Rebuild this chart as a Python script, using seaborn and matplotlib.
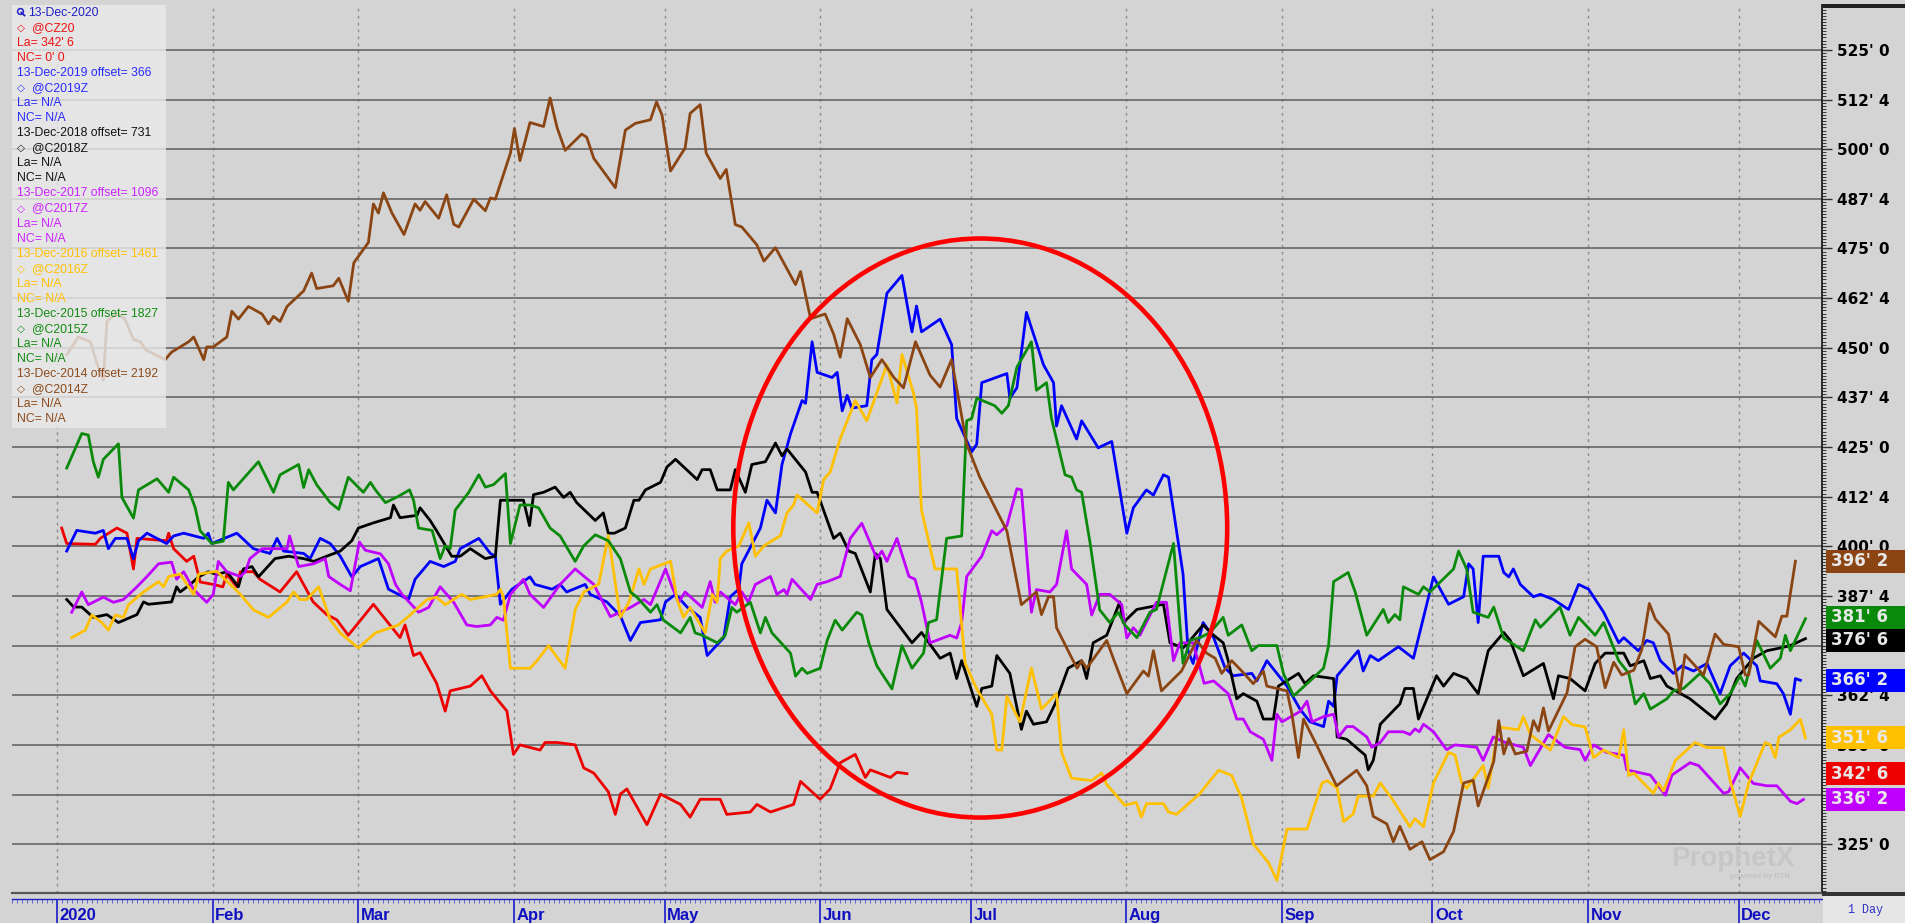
import numpy as np
import pandas as pd
import matplotlib
matplotlib.use("Agg")
import matplotlib.pyplot as plt
import matplotlib.dates as mdates
from matplotlib.patches import Ellipse, Rectangle
from matplotlib.lines import Line2D
from matplotlib.ticker import MultipleLocator, FuncFormatter
from matplotlib.transforms import ScaledTranslation, blended_transform_factory
import seaborn as sns

# ---- data: day of year 2020 (0 = 1 Jan) and price in cents/bu ----
cz20_day = [0.9, 1.9, 7.6, 8.6, 11.9, 13.9, 15.2, 15.9, 21.8, 22.2, 23.2, 25.8, 27.2, 28.5, 31.1, 33.0, 33.8, 35.8, 36.5, 39.1,
            40.4, 44.4, 47.7, 51.0, 53.7, 55.7, 58.0, 63.0, 68.3, 69.3, 71.0, 72.3, 75.6, 77.3, 78.3, 82.3, 84.6, 86.3, 89.6, 90.9,
            92.2, 96.2, 97.2, 99.6, 103.2, 104.9, 106.9, 109.8, 111.2, 112.2, 113.5, 117.5, 120.2, 124.2, 126.1, 128.1, 132.1, 133.4,
            138.1, 139.4, 142.1, 146.7, 148.1, 152.0, 154.0, 156.0, 159.0, 161.0, 162.0, 166.0, 167.3, 169.3]
cz20_price = [404.6, 400.7, 400.5, 402.0, 404.6, 403.3, 394.3, 402.0, 401.4, 403.3, 399.4, 396.2, 397.5, 391.0, 390.4, 389.8,
              392.9, 389.8, 393.6, 393.6, 391.7, 388.5, 393.6, 386.0, 382.8, 381.5, 377.6, 385.4, 377.0, 380.2, 372.5, 373.2,
              365.5, 358.5, 363.6, 364.8, 367.4, 363.6, 358.5, 347.6, 350.0, 348.7, 350.6, 350.6, 350.0, 344.2, 342.9, 338.2,
              332.5, 337.6, 338.9, 329.9, 337.6, 335.0, 331.8, 336.3, 336.3, 332.5, 333.1, 335.0, 333.1, 335.0, 340.8, 336.3,
              338.9, 345.5, 347.6, 341.8, 343.7, 341.8, 343.1, 342.75]

c2019_day = [1.9, 3.9, 7.6, 9.2, 10.2, 11.6, 13.9, 15.2, 16.2, 17.9, 21.8, 23.2, 25.2, 29.2, 30.1, 30.8, 35.8, 39.1, 42.4, 43.8,
             45.1, 49.1, 50.4, 52.4, 54.4, 56.4, 58.7, 60.4, 64.0, 66.0, 70.0, 71.3, 74.3, 77.0, 79.3, 80.3, 84.0, 86.3, 87.3,
             88.3, 90.6, 94.2, 95.2, 98.6, 100.2, 101.5, 105.2, 106.2, 109.5, 112.2, 114.2, 116.2, 120.2, 121.2, 123.2, 125.5,
             128.1, 129.5, 132.8, 134.1, 135.8, 136.4, 140.1, 141.4, 143.1, 144.4, 146.1, 148.4, 149.1, 150.4, 151.4, 154.4,
             155.4, 156.4, 157.4, 158.3, 161.3, 162.3, 163.3, 165.3, 168.3, 170.3, 171.2, 172.2, 175.9, 178.2, 179.2, 182.2,
             183.2, 184.2, 189.2, 189.8, 191.2, 193.1, 196.5, 198.5, 199.1, 200.1, 203.1, 204.1, 207.4, 210.1, 213.1, 214.4,
             217.0, 218.4, 220.4, 221.4, 224.3, 225.3, 226.3, 228.3, 230.4, 232.7, 234.3, 238.0, 239.0, 241.0, 245.0, 247.6,
             249.6, 252.3, 253.3, 254.3, 255.0, 259.2, 260.2, 261.6, 263.2, 267.2, 270.2, 274.2, 277.2, 280.2, 281.2, 282.1,
             283.1, 284.1, 287.2, 288.2, 289.2, 290.1, 291.5, 294.1, 295.5, 298.1, 301.1, 303.1, 305.1, 308.1, 311.1, 312.1,
             315.0, 316.7, 318.0, 319.4, 322.0, 323.7, 326.0, 328.7, 331.3, 333.3, 336.0, 338.6, 339.3, 342.6, 343.9, 345.3,
             346.3, 347.3]
c2019_price = [398.8, 404.0, 403.3, 404.0, 399.4, 402.0, 402.0, 396.9, 401.4, 403.3, 400.7, 402.6, 403.3, 402.0, 403.3, 400.7,
               403.3, 399.4, 398.2, 402.0, 398.8, 398.2, 396.9, 402.0, 400.7, 397.5, 392.3, 394.9, 396.9, 389.2, 386.6, 391.7,
               396.2, 394.9, 396.2, 399.4, 402.0, 398.2, 397.5, 385.4, 389.2, 392.3, 390.4, 389.2, 390.4, 388.5, 390.4, 387.9,
               386.0, 382.5, 376.3, 380.8, 381.5, 386.0, 387.9, 384.7, 382.1, 372.5, 377.0, 387.3, 389.2, 395.6, 404.6, 411.6,
               408.4, 420.6, 428.3, 436.7, 436.0, 451.5, 443.8, 442.5, 443.8, 434.1, 438.0, 434.8, 435.4, 447.0, 448.3, 463.7,
               468.2, 454.0, 460.5, 454.0, 457.2, 450.8, 432.2, 423.8, 425.7, 441.2, 443.5, 437.3, 439.9, 458.9, 445.7, 441.2,
               430.3, 435.4, 427.0, 431.6, 424.8, 426.4, 403.3, 409.7, 414.2, 412.9, 418.0, 417.4, 393.0, 373.7, 370.5, 380.8,
               377.0, 369.3, 367.4, 368.0, 366.1, 371.2, 364.8, 359.0, 355.8, 354.6, 361.0, 359.7, 367.4, 373.7, 368.6, 372.5,
               371.2, 374.7, 371.8, 392.3, 385.4, 387.3, 395.6, 394.3, 380.8, 397.5, 397.5, 393.4, 392.3, 394.3, 390.4, 387.3,
               387.9, 386.6, 384.1, 390.4, 389.2, 383.4, 375.7, 377.0, 373.7, 376.3, 375.7, 371.2, 368.0, 369.9, 368.6, 370.5,
               362.9, 369.9, 373.1, 369.9, 366.1, 365.4, 362.9, 357.7, 366.7, 366.25]

c2018_day = [1.9, 3.3, 4.9, 7.2, 9.9, 12.2, 15.9, 17.2, 18.2, 22.8, 23.8, 24.5, 26.5, 28.2, 30.1, 31.8, 33.8, 36.1, 37.1, 38.8,
             40.1, 43.4, 46.1, 49.1, 51.1, 53.7, 56.4, 58.7, 60.0, 63.0, 66.4, 67.0, 68.3, 71.7, 72.3, 74.3, 75.6, 78.6, 80.3,
             82.3, 85.3, 87.3, 88.3, 92.9, 94.1, 94.9, 96.9, 99.2, 100.9, 102.2, 103.5, 107.2, 108.8, 109.8, 111.0, 113.2, 114.9,
             115.9, 117.2, 120.2, 121.5, 123.2, 127.5, 128.5, 130.1, 131.5, 134.1, 135.1, 137.1, 138.4, 141.1, 143.1, 144.4,
             145.4, 149.1, 150.4, 151.4, 154.7, 156.0, 157.7, 159.0, 162.0, 163.0, 164.0, 165.3, 170.3, 172.2, 175.9, 177.9,
             179.2, 180.2, 183.2, 184.2, 186.2, 187.2, 189.8, 192.1, 193.1, 194.5, 197.1, 198.8, 201.4, 204.1, 205.1, 206.4,
             209.1, 211.7, 212.4, 215.1, 220.4, 221.7, 224.3, 225.7, 228.3, 230.4, 232.3, 233.3, 235.0, 236.3, 239.0, 240.3,
             242.3, 243.3, 247.3, 248.6, 250.3, 254.3, 255.0, 256.9, 260.6, 261.2, 262.2, 263.6, 267.5, 268.5, 270.2, 271.2,
             274.8, 276.2, 278.2, 280.8, 283.1, 285.1, 288.2, 289.5, 292.1, 296.1, 298.1, 299.1, 301.4, 304.4, 306.4, 308.4,
             312.1, 313.4, 316.1, 317.4, 319.4, 320.7, 325.3, 330.3, 332.6, 334.6, 337.9, 340.6, 343.3, 345.3, 348.3]
c2018_price = [386.6, 384.7, 384.7, 382.1, 382.8, 380.8, 382.8, 386.0, 385.4, 386.0, 389.8, 388.5, 390.4, 392.3, 393.6, 392.9,
               393.6, 389.8, 394.3, 394.9, 392.3, 396.9, 397.5, 396.9, 396.2, 397.5, 398.8, 401.4, 404.6, 405.9, 407.2, 410.4,
               407.2, 407.8, 409.7, 406.5, 403.9, 397.5, 397.5, 399.4, 396.9, 397.5, 411.6, 411.6, 405.2, 413.0, 413.6, 414.9,
               412.3, 413.6, 411.0, 406.5, 408.4, 403.3, 403.3, 404.6, 411.6, 411.6, 414.2, 416.1, 420.0, 421.9, 416.8, 419.3,
               419.3, 414.2, 414.2, 419.3, 413.6, 420.6, 421.3, 426.0, 422.8, 424.5, 418.7, 413.6, 413.6, 402.0, 403.3, 398.8,
               398.2, 388.5, 398.2, 396.9, 384.1, 375.7, 378.3, 371.8, 373.1, 366.7, 371.2, 359.7, 364.2, 364.8, 372.5, 368.0,
               353.9, 358.5, 355.2, 355.8, 360.3, 369.3, 371.2, 366.7, 375.7, 377.6, 386.0, 380.8, 384.1, 385.4, 375.7, 374.4,
               376.3, 380.2, 377.6, 375.7, 371.2, 361.6, 362.9, 361.0, 356.5, 356.5, 364.8, 368.0, 365.4, 367.4, 366.7, 352.0,
               351.4, 347.4, 343.7, 346.1, 355.2, 360.3, 364.2, 364.2, 356.5, 367.4, 364.8, 368.0, 366.7, 362.9, 373.7, 378.3,
               376.3, 367.4, 370.5, 361.6, 367.4, 366.7, 363.6, 370.5, 373.1, 373.1, 369.9, 371.2, 366.7, 367.4, 364.8, 361.6,
               356.5, 360.3, 366.7, 371.8, 373.7, 374.4, 375.0, 376.75]

c2017_day = [2.9, 4.9, 6.2, 9.2, 11.2, 13.2, 15.9, 17.9, 20.2, 22.8, 23.8, 25.2, 27.2, 29.8, 31.1, 32.1, 33.8, 36.5, 37.5, 38.4,
             40.8, 45.8, 46.3, 48.1, 51.1, 53.4, 54.1, 56.4, 58.4, 60.2, 61.4, 64.4, 66.0, 67.4, 68.7, 72.0, 74.0, 76.3, 79.0,
             81.6, 83.6, 86.3, 87.6, 88.9, 90.3, 92.9, 94.2, 96.9, 100.2, 103.2, 106.9, 110.2, 112.2, 114.2, 116.9, 118.2, 121.2,
             122.5, 123.8, 125.1, 128.5, 130.1, 131.1, 132.1, 135.1, 136.4, 137.7, 139.1, 142.1, 143.4, 144.8, 145.4, 146.4,
             150.1, 151.4, 153.4, 156.0, 158.0, 160.3, 163.3, 164.3, 165.3, 167.3, 169.7, 170.9, 172.2, 173.9, 177.9, 179.2,
             180.2, 181.2, 184.2, 186.2, 187.2, 189.2, 191.2, 192.1, 194.1, 195.1, 197.8, 199.1, 201.1, 202.1, 205.1, 206.1,
             207.7, 209.7, 212.1, 213.1, 214.4, 215.7, 219.0, 221.0, 222.4, 223.7, 226.3, 228.5, 230.4, 233.3, 235.0, 236.3,
             237.7, 240.3, 242.0, 243.0, 244.0, 247.6, 249.0, 250.0, 252.3, 254.3, 255.3, 256.9, 258.2, 260.9, 261.9, 263.6,
             265.2, 268.2, 269.5, 270.5, 271.4, 272.2, 274.2, 276.8, 278.5, 282.8, 284.1, 286.1, 288.5, 292.1, 293.5, 297.1,
             300.4, 303.4, 304.4, 306.1, 308.7, 312.1, 312.7, 317.4, 320.4, 321.7, 325.3, 327.0, 332.0, 333.0, 335.3, 337.9,
             340.6, 342.6, 345.3, 346.6, 347.9]
c2017_price = [383.4, 388.5, 385.3, 387.2, 385.9, 386.6, 389.8, 392.4, 395.6, 396.0, 391.7, 393.6, 389.1, 385.9, 387.9, 396.2,
               393.6, 392.4, 393.6, 396.9, 399.4, 399.4, 402.6, 394.9, 395.6, 396.9, 392.4, 390.4, 388.8, 401.1, 399.0, 398.1,
               395.6, 390.4, 387.9, 383.4, 384.6, 389.8, 385.9, 380.2, 379.8, 380.2, 382.1, 381.4, 387.9, 391.7, 387.9, 384.6,
               390.4, 394.3, 390.4, 382.3, 383.4, 384.6, 386.6, 385.3, 394.3, 389.8, 385.9, 388.5, 384.6, 391.1, 385.9, 388.5,
               385.3, 388.5, 385.9, 390.4, 392.4, 387.9, 389.1, 387.9, 391.7, 386.6, 390.4, 391.1, 392.4, 402.0, 405.8, 396.9,
               398.8, 396.2, 402.0, 392.4, 391.7, 385.9, 375.7, 377.6, 376.9, 380.8, 392.4, 397.5, 403.9, 402.9, 405.2, 414.5,
               414.2, 383.4, 389.1, 388.5, 390.4, 403.9, 394.3, 390.4, 382.7, 387.9, 387.9, 385.3, 376.9, 379.5, 377.6, 385.9,
               385.9, 371.2, 375.7, 375.7, 365.5, 366.1, 362.9, 356.5, 356.5, 353.3, 351.4, 346.1, 357.7, 355.8, 358.4, 361.0,
               355.8, 357.1, 357.7, 352.0, 354.6, 354.6, 352.0, 349.4, 350.6, 353.3, 353.3, 352.6, 354.0, 353.3, 355.2, 353.3,
               348.8, 350.0, 349.4, 346.1, 352.0, 350.6, 349.4, 344.8, 352.6, 349.4, 348.8, 346.1, 350.0, 348.1, 347.4, 343.7,
               342.4, 337.3, 342.4, 345.5, 344.8, 337.8, 338.2, 344.2, 340.3, 339.7, 339.7, 335.8, 335.2, 336.25]

c2016_day = [2.9, 5.6, 6.9, 8.9, 10.2, 11.6, 13.2, 14.2, 17.2, 20.2, 21.2, 22.2, 24.5, 27.2, 28.2, 31.8, 36.5, 39.1, 42.1, 45.8,
             47.1, 48.4, 49.7, 52.1, 54.4, 56.4, 60.0, 63.4, 68.0, 70.3, 73.7, 75.6, 77.3, 80.6, 82.3, 87.6, 88.3, 88.9, 90.3,
             94.2, 95.6, 97.9, 101.2, 103.2, 104.9, 107.9, 109.8, 112.2, 113.9, 115.9, 116.9, 118.2, 122.2, 123.5, 124.8, 126.1,
             129.1, 130.5, 131.5, 132.1, 133.4, 135.8, 137.8, 139.1, 140.8, 144.1, 145.4, 146.7, 147.4, 151.4, 152.7, 154.0,
             156.0, 159.0, 161.3, 165.3, 167.3, 168.3, 170.6, 171.2, 172.2, 174.9, 179.2, 180.9, 183.2, 186.2, 187.2, 188.2,
             189.2, 191.8, 194.1, 196.1, 199.1, 200.1, 202.1, 206.1, 208.1, 209.1, 212.7, 215.0, 216.0, 217.0, 220.4, 221.4,
             223.0, 227.7, 229.7, 231.4, 234.0, 236.0, 238.3, 241.3, 243.0, 245.0, 249.0, 252.0, 253.0, 255.0, 256.3, 258.2,
             259.2, 262.2, 263.6, 265.9, 269.5, 270.5, 272.2, 274.2, 277.2, 278.5, 279.8, 280.8, 284.1, 285.1, 286.2, 287.2,
             291.1, 292.1, 293.5, 297.5, 300.1, 301.8, 304.4, 306.1, 308.1, 311.1, 312.1, 313.1, 314.1, 318.0, 319.0, 320.0,
             322.4, 326.3, 328.7, 332.0, 333.3, 335.3, 337.0, 340.3, 341.3, 342.3, 343.0, 345.3, 347.3, 348.3]
c2016_price = [377.0, 378.9, 382.7, 380.8, 378.9, 382.7, 382.1, 385.3, 388.5, 391.1, 389.8, 392.4, 393.0, 387.9, 393.0, 393.7,
               387.9, 384.0, 382.1, 386.0, 388.5, 386.6, 386.6, 389.8, 381.5, 378.2, 374.4, 378.2, 380.2, 382.7, 386.6, 387.2,
               385.3, 387.9, 386.6, 387.9, 389.2, 387.2, 369.3, 369.3, 371.2, 375.0, 369.3, 384.0, 388.5, 390.5, 402.7, 382.1,
               385.9, 394.3, 390.4, 394.3, 396.2, 386.6, 382.1, 384.6, 378.2, 387.9, 385.9, 396.9, 398.8, 400.1, 405.9, 397.5,
               400.1, 402.7, 408.4, 410.4, 412.9, 408.4, 416.8, 418.7, 427.1, 436.7, 431.6, 445.7, 436.1, 448.3, 438.6, 434.8,
               409.1, 394.3, 394.3, 370.5, 364.1, 357.7, 348.7, 348.7, 362.2, 355.8, 369.3, 359.0, 362.9, 348.1, 341.6, 341.0,
               342.9, 340.0, 334.8, 335.5, 331.8, 335.2, 335.2, 333.1, 332.5, 337.8, 341.0, 343.6, 342.3, 336.5, 325.0, 320.4,
               315.9, 328.8, 328.8, 340.4, 341.0, 339.1, 330.7, 332.6, 337.1, 337.1, 340.4, 336.5, 329.4, 331.4, 329.4, 340.4,
               348.1, 347.4, 340.4, 339.1, 344.8, 339.1, 347.4, 354.5, 353.8, 357.1, 352.6, 348.7, 357.1, 355.1, 354.5, 346.8,
               348.7, 346.8, 353.8, 342.3, 342.9, 337.8, 340.4, 338.4, 346.1, 350.6, 349.3, 349.3, 341.0, 332.0, 340.4, 350.6,
               350.0, 346.8, 351.9, 353.8, 356.4, 351.75]

c2015_day = [1.9, 4.9, 6.2, 7.2, 8.2, 9.2, 12.2, 12.9, 15.2, 16.2, 19.9, 22.2, 23.2, 26.2, 27.5, 28.5, 30.8, 33.1, 34.1, 35.1,
             40.1, 43.1, 44.4, 48.1, 49.1, 50.1, 51.7, 54.4, 56.1, 58.0, 61.0, 62.4, 63.4, 65.4, 68.0, 70.2, 71.0, 72.0, 74.7,
             76.3, 77.3, 78.3, 79.3, 82.0, 84.0, 85.3, 86.9, 89.3, 90.3, 92.2, 94.2, 95.9, 98.2, 100.2, 103.2, 104.9, 107.2,
             109.8, 112.2, 114.2, 115.5, 118.2, 119.5, 120.8, 124.2, 126.1, 127.1, 128.5, 131.5, 133.1, 134.4, 135.4, 138.1,
             140.1, 141.1, 142.4, 146.1, 147.1, 148.4, 149.4, 152.0, 153.4, 155.0, 156.4, 159.3, 160.3, 161.7, 163.3, 166.3,
             168.3, 170.3, 172.6, 173.6, 175.2, 177.2, 180.2, 181.2, 182.2, 183.2, 186.8, 188.2, 189.5, 191.2, 194.1, 195.1,
             197.1, 198.1, 200.8, 202.1, 203.1, 204.1, 205.8, 207.7, 209.7, 211.4, 212.7, 215.1, 217.7, 219.0, 222.4, 224.3,
             225.7, 227.7, 229.7, 232.3, 233.3, 236.0, 238.0, 239.3, 243.0, 244.3, 246.3, 249.6, 252.3, 253.3, 254.3, 257.2,
             258.6, 260.9, 264.2, 265.2, 266.5, 267.5, 268.2, 271.2, 272.2, 273.5, 278.2, 279.2, 280.8, 282.1, 285.1, 286.2,
             288.2, 292.1, 294.5, 295.5, 299.4, 301.4, 303.1, 306.4, 308.1, 311.1, 313.1, 314.4, 316.1, 317.4, 320.7, 322.0,
             324.0, 327.3, 329.3, 331.3, 333.3, 335.3, 336.3, 338.6, 341.3, 343.3, 344.3, 345.3, 348.3]
c2015_price = [419.7, 428.4, 428.0, 421.3, 417.4, 421.9, 425.8, 412.3, 407.1, 414.2, 417.0, 413.6, 417.4, 414.2, 409.7, 403.9,
               400.7, 401.3, 416.1, 414.2, 421.3, 413.6, 418.0, 420.6, 414.8, 419.3, 415.5, 411.0, 409.3, 417.4, 413.6, 416.1,
               414.2, 411.0, 412.6, 414.2, 411.6, 404.6, 404.0, 396.9, 400.1, 399.4, 409.1, 413.6, 418.0, 414.9, 415.5, 418.3,
               400.7, 410.4, 410.4, 409.7, 404.6, 402.6, 396.2, 400.1, 402.9, 401.4, 396.9, 388.5, 387.2, 383.4, 385.3, 381.4,
               378.2, 382.1, 378.2, 377.6, 375.7, 377.6, 384.6, 383.4, 385.9, 378.2, 382.1, 378.2, 373.1, 367.3, 369.3, 368.0,
               369.3, 376.3, 381.4, 378.9, 383.4, 382.7, 375.7, 369.9, 364.1, 375.0, 369.3, 373.1, 380.8, 381.5, 402.0, 402.6,
               431.6, 432.2, 437.3, 435.4, 433.5, 435.4, 445.1, 451.5, 439.3, 441.2, 432.2, 418.0, 417.4, 414.2, 413.6, 400.7,
               384.0, 380.8, 383.4, 380.2, 377.0, 383.4, 384.1, 400.7, 370.5, 376.3, 377.0, 378.3, 382.1, 377.6, 380.2, 373.7,
               375.0, 375.0, 368.0, 362.3, 366.1, 369.3, 375.0, 391.1, 393.4, 388.5, 377.6, 384.1, 380.8, 382.8, 381.5, 389.8,
               387.9, 389.8, 388.5, 394.3, 398.8, 394.3, 383.4, 382.1, 384.7, 376.9, 373.7, 381.5, 379.6, 384.7, 377.6, 382.1,
               377.6, 380.8, 371.2, 368.0, 360.3, 362.9, 359.0, 361.6, 363.6, 364.2, 368.0, 365.4, 360.3, 362.9, 367.4, 364.8,
               376.3, 369.3, 371.8, 377.6, 373.7, 381.75]

c2014_day = [1.9, 4.2, 6.6, 8.2, 9.2, 9.9, 11.0, 12.2, 13.5, 15.2, 16.6, 17.6, 21.5, 22.8, 26.2, 27.2, 29.2, 29.8, 31.1, 33.8,
             34.8, 36.1, 38.1, 40.8, 42.1, 43.1, 44.4, 45.8, 49.1, 50.7, 51.7, 55.0, 56.1, 58.0, 59.1, 62.0, 63.0, 64.0, 65.0,
             66.7, 69.1, 71.3, 72.3, 73.3, 76.0, 77.6, 79.0, 80.0, 83.0, 85.3, 86.3, 87.3, 90.3, 91.1, 92.2, 94.2, 96.9, 98.2,
             99.6, 101.2, 104.5, 105.5, 106.9, 111.2, 113.2, 115.2, 118.2, 119.4, 120.5, 122.2, 125.1, 126.1, 128.1, 129.3,
             132.1, 133.3, 135.1, 136.4, 139.4, 140.8, 143.1, 147.1, 148.1, 150.1, 153.0, 154.7, 156.0, 157.4, 160.0, 162.0,
             164.3, 166.7, 168.6, 171.0, 173.9, 175.9, 178.2, 181.2, 183.8, 189.2, 192.1, 195.1, 196.1, 197.5, 198.5, 199.1,
             202.4, 203.2, 204.1, 205.1, 209.1, 210.4, 213.1, 216.4, 217.4, 218.4, 220.0, 224.0, 227.0, 229.0, 230.7, 232.0,
             234.0, 236.0, 238.3, 240.3, 241.0, 245.0, 246.0, 247.3, 248.3, 250.9, 252.9, 254.9, 258.9, 260.9, 262.2, 264.9,
             266.2, 267.5, 269.5, 271.9, 273.5, 276.2, 278.2, 280.2, 282.1, 283.1, 284.5, 286.2, 287.2, 288.2, 289.2, 290.5,
             292.8, 294.1, 295.1, 296.1, 297.1, 300.8, 302.4, 304.4, 306.7, 308.4, 310.1, 311.7, 314.1, 315.7, 317.2, 318.4,
             321.0, 323.3, 324.3, 328.0, 330.3, 332.0, 335.0, 336.3, 337.0, 339.0, 342.3, 343.6, 344.6, 346.3]
c2014_price = [448.2, 452.7, 451.5, 445.0, 441.9, 456.6, 457.9, 458.5, 457.2, 452.1, 451.5, 449.5, 447.0, 448.9, 451.5, 452.7,
               447.0, 450.2, 450.2, 452.7, 459.2, 457.2, 460.4, 458.5, 456.0, 457.9, 456.6, 460.4, 464.3, 468.8, 464.9, 465.6,
               467.5, 461.7, 471.4, 476.5, 486.2, 483.9, 489.0, 483.9, 478.5, 486.2, 484.6, 486.8, 482.6, 488.5, 481.1, 480.4,
               487.4, 484.5, 487.7, 487.4, 499.0, 505.2, 497.1, 506.7, 505.7, 512.9, 505.4, 499.7, 503.8, 503.0, 497.7, 490.3,
               504.8, 506.5, 507.4, 511.9, 508.6, 494.5, 500.3, 509.0, 511.2, 499.0, 492.6, 494.9, 481.0, 480.4, 475.9, 471.8,
               475.2, 465.9, 469.2, 457.3, 458.5, 453.4, 447.6, 457.3, 450.8, 442.5, 447.0, 442.5, 439.9, 451.5, 443.1, 440.1,
               447.0, 425.7, 417.4, 403.9, 385.3, 388.5, 382.8, 387.3, 387.3, 379.5, 371.2, 369.3, 371.2, 369.3, 376.3, 371.8,
               362.9, 368.6, 367.3, 373.7, 363.6, 368.6, 376.3, 373.1, 371.8, 368.0, 371.2, 368.6, 365.4, 368.6, 364.8, 363.6,
               357.7, 346.8, 356.5, 350.0, 344.8, 339.7, 343.6, 339.7, 332.0, 330.1, 325.6, 329.5, 323.7, 325.6, 321.1, 323.1,
               328.2, 340.4, 341.1, 334.6, 339.7, 345.8, 356.1, 347.7, 351.6, 347.7, 348.4, 356.1, 353.5, 359.3, 353.5, 363.1,
               374.7, 376.6, 374.7, 364.4, 370.8, 367.6, 368.8, 374.0, 385.6, 381.7, 377.9, 363.1, 372.7, 367.6, 377.9, 375.3,
               374.7, 367.6, 367.6, 381.1, 377.2, 382.4, 382.4, 396.25]

contracts = ["@CZ20", "@C2019Z", "@C2018Z", "@C2017Z", "@C2016Z", "@C2015Z", "@C2014Z"]
ref_dates = ["13-Dec-2020", "13-Dec-2019", "13-Dec-2018", "13-Dec-2017", "13-Dec-2016", "13-Dec-2015", "13-Dec-2014"]
offsets = [None, 366, 731, 1096, 1461, 1827, 2192]
last_labels = ["342' 6", "366' 2", "376' 6", "336' 2", "351' 6", "381' 6", "396' 2"]
line_colors = ["#ee0000", "#0000ff", "#000000", "#c000ff", "#ffc000", "#0a8a0a", "#8b4513"]
text_colors = ["#ee1111", "#2a2aff", "#111111", "#cc22ff", "#ffc000", "#108a10", "#8b4a1c"]
month_starts = pd.date_range("2020-01-01", "2020-12-01", freq="MS")
month_labels = ["2020"] + [m.strftime("%b") for m in month_starts[1:]]

days = [cz20_day, c2019_day, c2018_day, c2017_day, c2016_day, c2015_day, c2014_day]
prices = [cz20_price, c2019_price, c2018_price, c2017_price, c2016_price, c2015_price, c2014_price]

base = pd.Timestamp("2020-01-01")
frames = []
for name, d, p in zip(contracts, days, prices):
    frames.append(pd.DataFrame({"date": base + pd.to_timedelta(d, unit="D"),
                                "price": p, "contract": name}))
df = pd.concat(frames, ignore_index=True)

BG = "#d4d4d4"
W, H = 1905, 923
plt.rcParams["font.family"] = ["Liberation Sans", "DejaVu Sans"]

fig = plt.figure(figsize=(W / 100, H / 100), dpi=100, facecolor=BG)
ax = fig.add_axes([12 / W, 30 / H, 1810 / W, 888 / H], facecolor=BG)

sns.lineplot(data=df, x="date", y="price", hue="contract", hue_order=contracts,
             palette=dict(zip(contracts, line_colors)), estimator=None, sort=False,
             linewidth=2.0, legend=False, ax=ax)

# highlight ellipse (centre day, centre price, width days, height cents)
ell_day, ell_price, ell_w, ell_h = 183.9, 404.6, 98.4, 145.8
ax.add_patch(Ellipse((mdates.date2num(base + pd.Timedelta(days=ell_day)), ell_price), ell_w, ell_h,
                     fill=False, ec="#ff0000", lw=3.3, zorder=4))

# spines first (moving a spine resets the ticks)
for s in ["left", "top"]:
    ax.spines[s].set_visible(False)
ax.spines["right"].set_color("#111111")
ax.spines["right"].set_linewidth(1.2)
ax.spines["bottom"].set_position(("outward", 4))
ax.spines["bottom"].set_color("#2020c0")
ax.spines["bottom"].set_linewidth(1.0)
ax.plot([0, 1], [0, 0], transform=ax.transAxes, color="#555555", lw=1.6, clip_on=False, zorder=3)

ax.set_xlabel("")
ax.set_ylabel("")
ax.set_axisbelow(True)
ax.yaxis.tick_right()
ax.yaxis.set_major_locator(MultipleLocator(12.5))
ax.yaxis.set_minor_locator(MultipleLocator(12.5 / 16))


def cents(v, pos):
    whole = int(np.floor(v + 1e-6))
    return f"{whole}' {int(round((v - whole) * 8))}"


ax.yaxis.set_major_formatter(FuncFormatter(cents))
ax.tick_params(axis="y", which="major", direction="out", length=7, width=1, color="#333333",
               labelsize=11, pad=4, right=True, left=False)
ax.tick_params(axis="y", which="minor", direction="out", length=3, width=0.7, color="#333333",
               right=True, left=False)
for lab in ax.get_yticklabels():
    lab.set_fontweight("bold")
    lab.set_family("DejaVu Sans")

ax.xaxis.set_minor_locator(mdates.DayLocator())
ax.tick_params(axis="x", which="major", direction="out", length=20, width=1.2, color="#1a1acc",
               labelcolor="#1010c0", pad=-13)
ax.tick_params(axis="x", which="minor", direction="out", length=3, width=0.6, color="#5050d0")
ax.set_xticks(mdates.date2num(month_starts), month_labels, fontweight="bold", fontsize=12, ha="left")
shift = ScaledTranslation(2.5 / 100, 0, fig.dpi_scale_trans)
for lab in ax.get_xticklabels():
    lab.set_transform(lab.get_transform() + shift)

ax.yaxis.grid(True, which="major", color="#5c5c5c", lw=1.1)
ax.xaxis.grid(True, which="major", color="#8c8c8c", lw=1.0, ls=(0, (2, 3)))

# last-value boxes on the price axis
box_h = 5.8
order = sorted(range(len(contracts)), key=lambda i: -prices[i][-1])
centers = {i: prices[i][-1] for i in order}
for a, b in zip(order[:-1], order[1:]):
    gap = centers[a] - centers[b]
    if gap < box_h:
        centers[a] += (box_h - gap) / 2
        centers[b] -= (box_h - gap) / 2
bt = blended_transform_factory(ax.transAxes, ax.transData)
for i in order:
    ax.add_patch(Rectangle(((1826 - 12) / 1810, centers[i] - box_h / 2), (W - 1826) / 1810, box_h,
                           transform=bt, fc=line_colors[i], ec="none", clip_on=False, zorder=6))
    ax.text((1831 - 12) / 1810, centers[i], last_labels[i], transform=bt, color="#e8e8e8",
            fontsize=12, fontweight="bold", family="DejaVu Sans", va="center", ha="left",
            clip_on=False, zorder=7)

ax.set_ylim(312.7, 536.3)
ax.set_xlim(base - pd.Timedelta(days=9), base + pd.Timedelta(days=351.6))

# legend panel (top-left)
fig.add_artist(Rectangle((12 / W, 1 - 428 / H), 154 / W, 423 / H, transform=fig.transFigure,
                         fc="#e9e9e9", ec="none", alpha=0.82, zorder=10))
rows = [(ref_dates[0], "#2020c8", False)]
for i, c in enumerate(contracts):
    tc = text_colors[i]
    if i > 0:
        rows.append((f"{ref_dates[i]} offset= {offsets[i]}", tc, False))
    rows.append((c, tc, True))
    rows.append(("La= " + (last_labels[i] if i == 0 else "N/A"), tc, False))
    rows.append(("NC= " + ("0' 0" if i == 0 else "N/A"), tc, False))
for k, (txt, col, diamond) in enumerate(rows):
    y = 1 - (12.7 + 15.06 * k) / H
    if k == 0:
        # small magnifier icon: lens + handle
        fig.add_artist(Line2D([19.5 / W], [1 - 10.5 / H], transform=fig.transFigure, marker="o",
                              ms=4.2, mfc="none", mec=col, mew=1.1, ls="none", zorder=11))
        fig.add_artist(Line2D([21.3 / W, 24.5 / W], [1 - 12.5 / H, 1 - 15.5 / H], transform=fig.transFigure,
                              color=col, lw=1.3, zorder=11))
        fig.text(28 / W, y, txt, color=col, fontsize=8.8, va="center", zorder=11)
    elif diamond:
        fig.text(17 / W, y, "\u25c7", color=col, fontsize=7.5, fontweight="bold", va="center",
                 family="DejaVu Sans", zorder=11)
        fig.text(32 / W, y, txt, color=col, fontsize=8.8, va="center", zorder=11)
    else:
        fig.text(17 / W, y, txt, color=col, fontsize=8.8, va="center", zorder=11)

# right-hand chrome
fig.add_artist(Rectangle((1822 / W, 1 - 8 / H), (W - 1822) / W, 4 / H, transform=fig.transFigure,
                         fc="#222222", ec="none", zorder=10))
fig.add_artist(Rectangle((1822 / W, 1 - 896 / H), (W - 1822) / W, 4 / H, transform=fig.transFigure,
                         fc="#333333", ec="none", zorder=10))
fig.add_artist(Rectangle((1823 / W, 0), (W - 1823) / W, 27 / H, transform=fig.transFigure,
                         fc="#e6e6e6", ec="none", zorder=10))
fig.text(1866 / W, 1 - 910 / H, "1 Day", color="#3030c8", fontsize=8.5, family="Liberation Mono",
         ha="center", va="center", zorder=11)

# watermark
fig.text(1733 / W, 1 - 859 / H, "ProphetX", color="#c6c6c6", fontsize=20, fontweight="bold",
         ha="center", va="center", zorder=2)
fig.text(1760 / W, 1 - 876 / H, "powered by DTN", color="#c2c2c2", fontsize=5.5, fontweight="bold",
         ha="center", va="center", zorder=2)

fig.savefig("out.png", dpi=100, facecolor=BG)
